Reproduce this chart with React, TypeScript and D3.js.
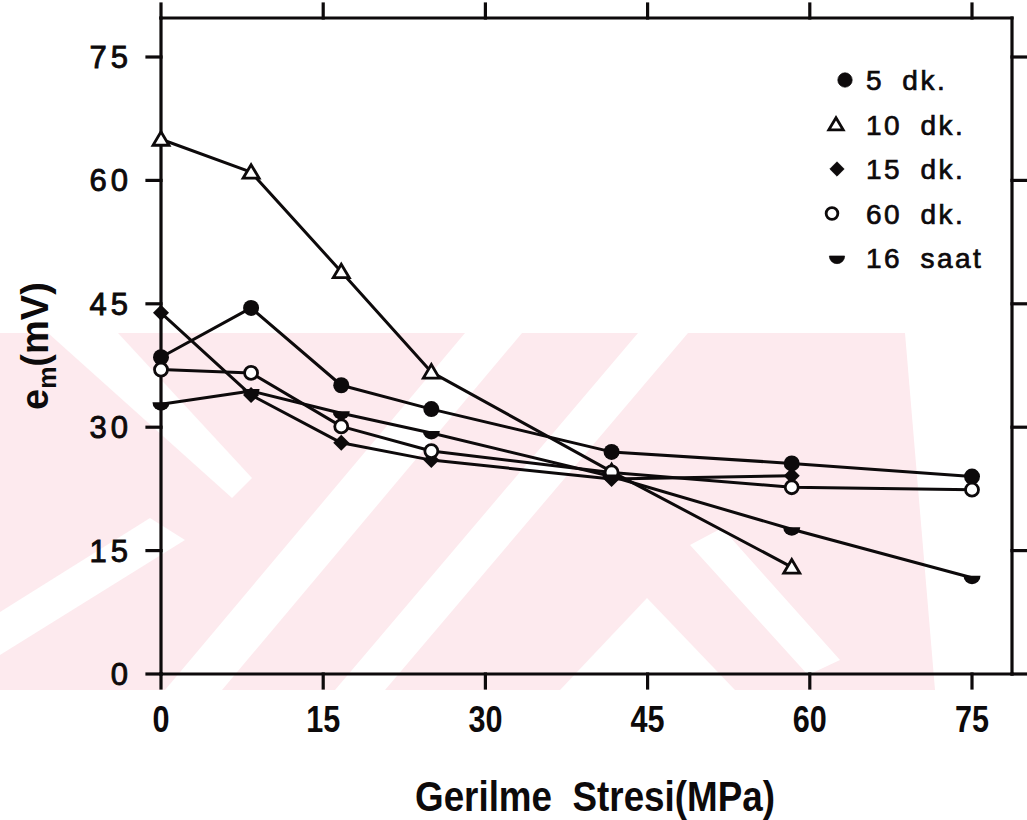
import React from "react";
import * as d3 from "d3";

// Applied stress (MPa) at each measurement point
const stress = [0, 8.33, 16.67, 25, 41.67, 58.33, 75];

// Membrane potential e_m (mV) per waiting time
const dk5 = [38.5, 44.5, 35.1, 32.2, 27.0, 25.6, 24.0];
const dk10 = [65.0, 61.0, 48.9, 36.7, 24.6, 13.0];
const dk15 = [43.9, 33.9, 28.1, 26.0, 23.7, 24.1];
const dk60 = [37.0, 36.6, 30.1, 27.1, 24.5, 22.7, 22.4];
const saat16 = [32.8, 34.4, 31.7, 29.3, 24.0, 17.6, 11.7];

const seriesNames = ["5 dk.", "10 dk.", "15 dk.", "60 dk.", "16 saat"];
const seriesMarkers = ["dot", "triangle", "diamond", "ring", "bowl"];
const seriesValues = [dk5, dk10, dk15, dk60, saat16];

const xTicks = [0, 15, 30, 45, 60, 75];
const yTicks = [0, 15, 30, 45, 60, 75];

const W = 1027;
const H = 820;
const frame = { left: 161, top: 18, right: 1012, bottom: 674 };

const x = d3.scaleLinear().domain([0, 75]).range([161, 972]);
const y = d3.scaleLinear().domain([0, 75]).range([674, 57]);

const INK = "#0d0a0b";
const PINK = "#fdeaee";

function Marker({ kind, cx, cy, s = 1 }: { kind: string; cx: number; cy: number; s?: number }) {
  if (kind === "dot") return <circle cx={cx} cy={cy} r={8 * s} fill={INK} />;
  if (kind === "ring")
    return <circle cx={cx} cy={cy} r={6.5 * s} fill="#fff" stroke={INK} strokeWidth={2.8} />;
  if (kind === "triangle") {
    const h = 7.5 * s;
    const w = 8 * s;
    return (
      <path
        d={`M${cx},${cy - h} L${cx + w},${cy + h * 0.8} L${cx - w},${cy + h * 0.8} Z`}
        fill="#fff"
        stroke={INK}
        strokeWidth={2.8}
        strokeLinejoin="miter"
      />
    );
  }
  if (kind === "diamond") {
    const r = 8 * s;
    return <path d={`M${cx},${cy - r} L${cx + r},${cy} L${cx},${cy + r} L${cx - r},${cy} Z`} fill={INK} />;
  }
  // lower half-disc
  const r = 8.5 * s;
  return <path d={`M${cx - r},${cy - 2} L${cx + r},${cy - 2} A${r},${r} 0 0 1 ${cx - r},${cy - 2} Z`} fill={INK} />;
}

// Faint background emblem made of diagonal bands
const emblemBase: [number, number][] = [
  [0, 333],
  [905, 333],
  [935, 690],
  [0, 690],
];
const emblemCuts: [number, number][][] = [
  [[48, 333], [118, 333], [252, 478], [232, 498]],
  [[0, 655], [0, 612], [150, 518], [185, 540]],
  [[165, 690], [222, 690], [522, 333], [465, 333]],
  [[335, 690], [385, 690], [688, 333], [638, 333]],
  [[560, 690], [647, 598], [735, 690]],
  [[690, 545], [722, 528], [840, 660], [808, 675]],
];

export default function App() {
  const line = d3
    .line<number>()
    .x((_, i) => x(stress[i]))
    .y((v) => y(v));

  const font = "'Liberation Sans', Arial, Helvetica, sans-serif";

  return (
    <svg width={W} height={H} viewBox={`0 0 ${W} ${H}`} style={{ display: "block", position: "absolute", left: 0, top: 0 }}>
      <rect width={W} height={H} fill="#fff" />
      <defs>
        <clipPath id="emblem-clip">
          <rect x={0} y={333} width={W} height={357} />
        </clipPath>
      </defs>
      <g clipPath="url(#emblem-clip)">
        <polygon points={emblemBase.map((p) => p.join(",")).join(" ")} fill={PINK} />
        {emblemCuts.map((poly, i) => (
          <polygon key={i} points={poly.map((p) => p.join(",")).join(" ")} fill="#fff" />
        ))}
      </g>

      {/* series lines */}
      {seriesValues.map((vals, i) => (
        <path key={i} d={line(vals) || ""} fill="none" stroke={INK} strokeWidth={3} strokeLinejoin="round" />
      ))}

      {/* frame */}
      <g stroke={INK} strokeWidth={3.2} fill="none" strokeLinecap="square">
        <line x1={frame.left} y1={frame.top} x2={frame.right} y2={frame.top} />
        <line x1={frame.right} y1={frame.top} x2={frame.right} y2={frame.bottom} />
        <line x1={frame.left} y1={frame.top} x2={frame.left} y2={frame.bottom} />
        <line x1={frame.left} y1={frame.bottom} x2={frame.right} y2={frame.bottom} />
        {xTicks.map((t) => (
          <g key={"xt" + t}>
            <line x1={x(t)} y1={frame.bottom} x2={x(t)} y2={frame.bottom + 14} />
            <line x1={x(t)} y1={frame.top} x2={x(t)} y2={frame.top - 14} />
          </g>
        ))}
        {yTicks.map((t) => (
          <g key={"yt" + t}>
            <line x1={frame.left - 14} y1={y(t)} x2={frame.left} y2={y(t)} />
            <line x1={frame.right} y1={y(t)} x2={frame.right + 14} y2={y(t)} />
          </g>
        ))}
      </g>

      {/* markers */}
      {seriesValues.map((vals, i) =>
        vals.map((v, j) => <Marker key={i + "-" + j} kind={seriesMarkers[i]} cx={x(stress[j])} cy={y(v)} />)
      )}

      {/* tick labels */}
      <g fill={INK} fontFamily={font}>
        {yTicks.map((t) => (
          <text
            key={"yl" + t}
            x={132}
            y={y(t) + 11}
            fontSize={31}
            textAnchor="end"
            letterSpacing={4}
            stroke={INK}
            strokeWidth={0.9}
          >
            {t}
          </text>
        ))}
        {xTicks.map((t) => (
          <text
            key={"xl" + t}
            x={x(t)}
            y={732}
            fontSize={37}
            fontWeight="bold"
            textAnchor="middle"
            textLength={String(t).length * 17}
            lengthAdjust="spacingAndGlyphs"
          >
            {t}
          </text>
        ))}
      </g>

      {/* axis titles */}
      <text
        x={415}
        y={811}
        fontFamily={font}
        fontSize={42}
        fontWeight="bold"
        fill={INK}
        textLength={360}
        lengthAdjust="spacingAndGlyphs"
        style={{ whiteSpace: "pre" }}
      >
        {"Gerilme  Stresi(MPa)"}
      </text>
      <g transform="translate(48,410) rotate(-90)" fill={INK} fontFamily={font} fontWeight="bold">
        <text x={0} y={0} fontSize={38}>
          e
          <tspan fontSize={25} dy={8}>
            m
          </tspan>
          <tspan fontSize={38} dy={-8}>
            (mV)
          </tspan>
        </text>
      </g>

      {/* legend */}
      <g fontFamily={font} fontSize={28} fill={INK} letterSpacing={2.5} wordSpacing={8} stroke={INK} strokeWidth={0.7}>
        {seriesNames.map((name, i) => {
          const ry = 80 + i * 44.5;
          const mx = [845, 836, 837, 832, 837][i];
          return (
            <g key={name}>
              <Marker kind={seriesMarkers[i]} cx={mx} cy={ry} s={0.9} />
              <text x={866} y={ry + 10}>
                {name}
              </text>
            </g>
          );
        })}
      </g>
    </svg>
  );
}
